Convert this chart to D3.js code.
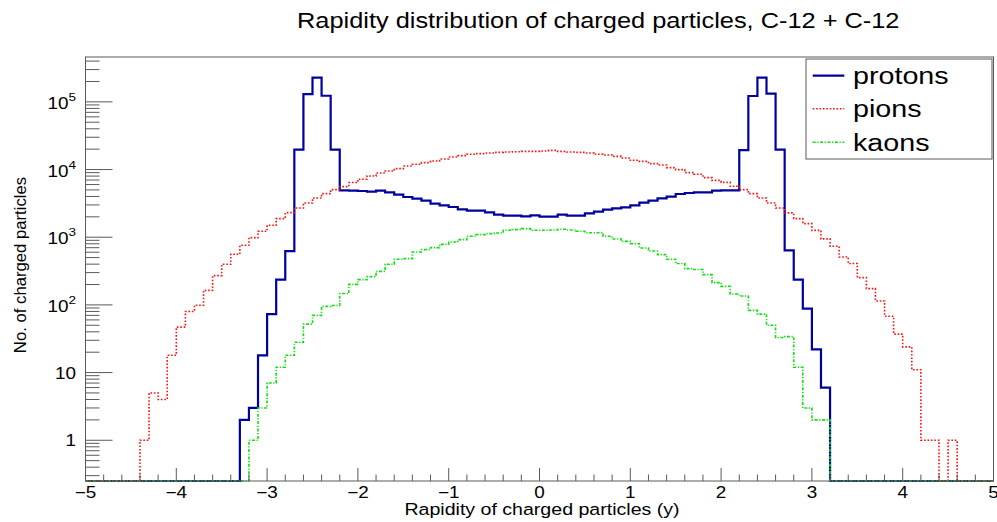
<!DOCTYPE html>
<html><head><meta charset="utf-8">
<script src="https://cdn.jsdelivr.net/npm/d3@7"></script>
<style>
body{margin:0;background:#fff}
svg{display:block}
text{font-family:"Liberation Sans",Arial,Helvetica,sans-serif;fill:#000}
</style>
</head><body>
<svg id="c" width="997" height="522"></svg>
<script>
// ---------------- data ----------------
const binWidth = 0.1;
const xDomain = [-5, 5];
const yDomain = [0.25, 4.6e5];
const xTickValues = [-5,-4,-3,-2,-1,0,1,2,3,4,5];
const yTickValues = [1,10,100,1000,10000,100000];
const yTickBase = ["1","10","10","10","10","10"];
const yTickExp  = ["","","2","3","4","5"];
const seriesNames = ["protons","pions","kaons"];
const titleText = "Rapidity distribution of charged particles, C-12 + C-12";
const xTitleText = "Rapidity of charged particles (y)";
const yTitleText = "No. of charged particles";

// protons: bins from -3.3 to 3.2
const protonStart = -3.3;
const protonCounts = [
 2,3,18,73,236,625,19700,130000,228000,123000,19700,
 4930,4875,4820,4710,4875,4605,4255,3930,3715,3470,
 3135,2960,2797,2582,2467,2467,2333,2154,2081,2081,
 2034,2105,2012,2012,2154,2081,2081,2254,2385,2553,
 2672,2765,2960,3240,3470,3755,3975,4350,4500,4605,
 4605,4875,4930,4930,
 19400,122000,228000,132000,19700,641,236,88,22,6];

// pions: bins from -4.4 to 4.6
const pionStart = -4.4;
const pionCounts = [
 1,5,4,18,47,80,99,164,271,398,559,759,986,1222,1500,1884,2307,2700,3200,3795,4405,5050,
 5600,6420,7200,8020,8870,9500,10300,11270,11940,12650,13370,14300,15320,16050,16790,17180,17550,17950,18150,18350,18560,18560,
 18760,19180,18560,18150,17950,17550,16790,16370,15660,14800,13680,13220,12220,11660,10670,9970,9000,8500,7590,6920,6450,5670,
 5050,4405,3795,3200,2700,2290,1884,1590,1260,944,735,510,408,253,174,114,68,37,24,11,1,1,0,1];

// kaons: bins from -3.2 to 3.2
const kaonStart = -3.2;
const kaonCounts = [
 1,3,7,12,18,28,52,70,95,98,
 147,201,236,262,313,398,472,483,605,656,702,785,849,920,1031,1092,1130,1155,1265,1295,1340,1265,
 1265,1280,1310,1280,1222,1165,1165,1031,940,869,804,693,625,553,472,408,344,333,280,213,188,145,
 135,83,73,50,33,34,12,3,2,2];

// ---------------- layout ----------------
const L = 85.5, R = 993.5, T = 57, B = 481;
const SX = 1.18; // horizontal text stretch of the reference
const axisColor = "#5a5a5a";
const svg = d3.select("#c");

const x = d3.scaleLinear().domain(xDomain).range([L, R]);
const y = d3.scaleLog().domain(yDomain).range([B, T]);

function stext(g, px, py, str, size, anchor, sx) {
  return g.append("text")
    .attr("transform", `translate(${px},${py}) scale(${sx === undefined ? SX : sx},1)`)
    .attr("font-size", size)
    .attr("text-anchor", anchor)
    .text(str);
}

svg.append("clipPath").attr("id","plotclip").append("rect")
  .attr("x", L).attr("y", T).attr("width", R-L).attr("height", B-T+1);

// ---------------- histograms ----------------
function histPoints(start, counts) {
  const n = Math.round((xDomain[1]-xDomain[0])/binWidth);
  const s = Math.round((start - xDomain[0])/binWidth);
  const vals = d3.range(n).map(i => {
    const j = i - s;
    return (j >= 0 && j < counts.length) ? counts[j] : 0;
  });
  const pts = vals.map((v,i) => [xDomain[0] + i*binWidth, v]);
  pts.push([xDomain[1], vals[n-1]]);
  return pts;
}
const line = d3.line()
  .x(d => x(d[0]))
  .y(d => d[1] > 0 ? y(d[1]) : B)
  .curve(d3.curveStepAfter);

const styles = {
  protons: {color:"#00009c", width:2.2, dash:null},
  pions:   {color:"#ff1010", width:1.6, dash:"1.6,1.8"},
  kaons:   {color:"#10e010", width:1.6, dash:"3,1.6,1.2,1.6"}
};
const seriesData = {
  protons: histPoints(protonStart, protonCounts),
  pions: histPoints(pionStart, pionCounts),
  kaons: histPoints(kaonStart, kaonCounts)
};

const hg = svg.append("g").attr("clip-path","url(#plotclip)");
seriesNames.forEach(name => {
  const st = styles[name];
  hg.append("path")
    .attr("d", line(seriesData[name]))
    .attr("fill","none")
    .attr("stroke", st.color)
    .attr("stroke-width", st.width)
    .attr("stroke-dasharray", st.dash)
    .attr("stroke-linejoin","miter");
});

// ---------------- frame & axes ----------------
const ag = svg.append("g");
ag.append("rect").attr("x", L).attr("y", T).attr("width", R-L).attr("height", B-T)
  .attr("fill","none").attr("stroke", axisColor).attr("stroke-width",1);

const xMinor = d3.range(-5, 5.0001, 0.2).map(v => Math.round(v*10)/10);
xMinor.forEach(v => {
  const major = Math.abs(v - Math.round(v)) < 1e-6;
  ag.append("line").attr("x1", x(v)).attr("x2", x(v))
    .attr("y1", B).attr("y2", B - (major ? 13 : 6.5))
    .attr("stroke", axisColor).attr("stroke-width",1);
});
xTickValues.forEach(v => {
  const lab = v < 0 ? "\u2212" + Math.abs(v) : String(v);
  stext(ag, x(v), 497.5, lab, 16, "middle");
});

const yMinor = [];
for (let d = -1; d <= 5; d++) {
  for (let k = 1; k <= 9; k++) {
    const v = k * Math.pow(10, d);
    if (v >= yDomain[0] && v <= yDomain[1]) yMinor.push([v, k === 1]);
  }
}
yMinor.forEach(([v, major]) => {
  ag.append("line").attr("x1", L).attr("x2", L + (major ? 27 : 14))
    .attr("y1", y(v)).attr("y2", y(v))
    .attr("stroke", axisColor).attr("stroke-width",1);
});
yTickValues.forEach((v,i) => {
  const t = ag.append("text")
    .attr("transform", `translate(76,${y(v) + (yTickExp[i] ? 7 : 6)}) scale(${SX},1)`)
    .attr("font-size", 16).attr("text-anchor","end");
  t.append("tspan").text(yTickBase[i]);
  if (yTickExp[i]) t.append("tspan").attr("font-size", 11.5).attr("dy", -8).text(yTickExp[i]);
});

// titles
stext(svg, 297, 28, titleText, 21.5, "start");
stext(svg, 542, 515, xTitleText, 16.6, "middle");
svg.append("text")
  .attr("transform", "translate(25.5,265) rotate(-90)")
  .attr("font-size", 16.7).attr("text-anchor","middle").text(yTitleText);

// ---------------- legend ----------------
const lg = svg.append("g");
lg.append("rect").attr("x", 806).attr("y", 59).attr("width", 186).attr("height", 100)
  .attr("fill","#fff").attr("stroke", axisColor).attr("stroke-width",1);
const legY = [75.7, 108.8, 142.3];
seriesNames.forEach((name,i) => {
  const st = styles[name];
  lg.append("line").attr("x1", 812.7).attr("x2", 844.3).attr("y1", legY[i]).attr("y2", legY[i])
    .attr("stroke", st.color).attr("stroke-width", st.width).attr("stroke-dasharray", st.dash);
  stext(lg, 853, legY[i] + 8.5, name, 24.3, "start");
});
</script>
</body></html>
